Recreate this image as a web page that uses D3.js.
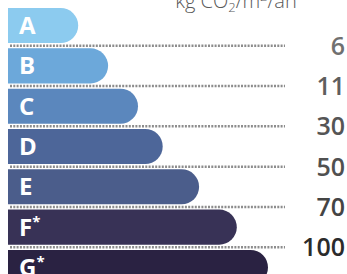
<!DOCTYPE html>
<html>
<head>
<meta charset="utf-8">
<script src="https://cdn.jsdelivr.net/npm/d3@7"></script>
<style>
  body { margin: 0; background: #fff; }
  svg { display: block; }
</style>
</head>
<body>
<div id="chart"></div>
<script>
const width = 347;
const height = 274;

// classes, relative bar length (% of longest), boundary values in kg CO2/m2/an
const classes = ["A", "B", "C", "D", "E", "F", "G"];
const starred = ["F", "G"];
const barLength = [27, 38.5, 50, 59.5, 73.5, 88, 100];
const limits = [6, 11, 30, 50, 70, 100];

const barColors = ["#8ccbef", "#6ca8da", "#5b87bd", "#4d6699", "#4b5d8b", "#383256", "#2a2242"];
const numColors = ["#707070", "#5e5e5e", "#555", "#505050", "#444", "#2b2b2b"];

const svg = d3.select("#chart")
  .append("svg")
  .attr("width", width)
  .attr("height", height);

//scales
const y = d3.scaleBand()
  .domain(classes)
  .range([8, 285])
  .paddingInner(0.13)
  .paddingOuter(0);

const x = d3.scaleLinear()
  .domain([0, 100])
  .range([8, 268]);

//unit title
const title = svg.append("text")
  .attr("x", 236)
  .attr("y", 8)
  .attr("text-anchor", "middle")
  .style("font-family", "Open Sans")
  .style("font-weight", 300)
  .style("font-size", "20px")
  .attr("fill", "#5a5a5a");
title.append("tspan").text("kg CO");
title.append("tspan").text("2").style("font-size", "13px").attr("dy", 4);
title.append("tspan").text("/m").attr("dy", -4);
title.append("tspan").text("2").style("font-size", "13px").attr("dy", -7);
title.append("tspan").text("/an").attr("dy", 7);

//dotted separators between classes
const sepY = (i) => y(classes[i]) + y.bandwidth() + (y.step() - y.bandwidth()) / 2;

svg.append("g")
  .selectAll("line")
  .data(limits)
  .enter()
  .append("line")
  .attr("x1", 10)
  .attr("x2", 285)
  .attr("y1", (d, i) => sepY(i))
  .attr("y2", (d, i) => sepY(i))
  .attr("stroke", "#8c8c8c")
  .attr("stroke-width", 2.5)
  .attr("stroke-dasharray", "2,1.3");

//bars with a rounded right end
const bars = svg.append("g")
  .selectAll("g")
  .data(classes)
  .enter()
  .append("g");

bars.append("path")
  .attr("d", (d, i) => {
    const x0 = x(0), x1 = x(barLength[i]);
    const y0 = y(d), h = y.bandwidth();
    const r = h / 2;
    return "M" + x0 + "," + y0 +
      "H" + (x1 - r) +
      "A" + r + "," + r + " 0 0 1 " + (x1 - r) + "," + (y0 + h) +
      "H" + x0 + "Z";
  })
  .attr("fill", (d, i) => barColors[i]);

const labels = bars.append("text")
  .attr("x", 19)
  .attr("y", (d) => y(d) + y.bandwidth() / 2 + 8.5)
  .style("font-family", "Open Sans")
  .style("font-weight", 700)
  .style("font-size", "24px")
  .attr("fill", "#fff")
  .text((d) => d);
labels.filter((d) => starred.includes(d))
  .append("tspan")
  .attr("dy", -9)
  .style("font-size", "15px")
  .text("*");

//boundary values
svg.append("g")
  .selectAll("text")
  .data(limits)
  .enter()
  .append("text")
  .attr("x", 345)
  .attr("y", (d, i) => sepY(i))
  .attr("dy", "0.36em")
  .attr("text-anchor", "end")
  .style("font-family", "Open Sans")
  .style("font-weight", 600)
  .style("font-size", "25px")
  .attr("fill", (d, i) => numColors[i])
  .text((d) => d);
</script>
</body>
</html>
